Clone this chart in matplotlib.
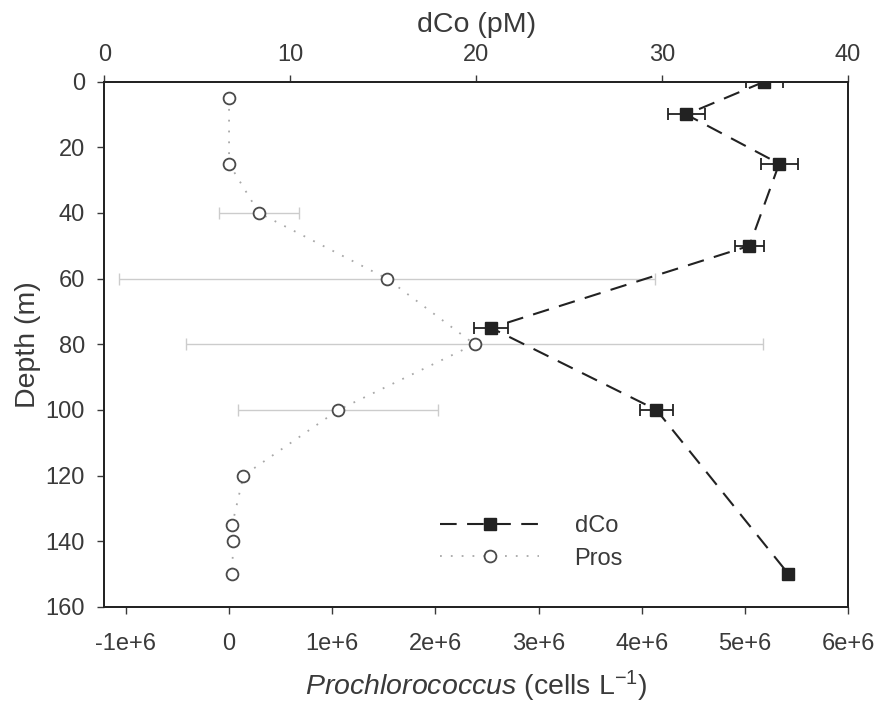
import matplotlib
matplotlib.use("Agg")
from matplotlib import pyplot as plt

plt.rcParams['font.family'] = ['Liberation Sans', 'DejaVu Sans']
plt.rcParams['mathtext.fontset'] = 'custom'
plt.rcParams['mathtext.it'] = 'Liberation Sans:italic'
plt.rcParams['mathtext.rm'] = 'Liberation Sans'

TEXT = '#3a3a3a'

# dCo profile (top axis, pM)
dco_depth = [0, 10, 25, 50, 75, 100, 150]
dco_val = [35.5, 31.3, 36.3, 34.7, 20.8, 29.7, 36.8]
dco_err = [1.0, 1.0, 1.0, 0.8, 0.9, 0.9, 0.3]

# Prochlorococcus profile (bottom axis, cells/L)
pros_depth = [5, 25, 40, 60, 80, 100, 120, 135, 140, 150]
pros_val = [0.0, 0.0, 0.29e6, 1.53e6, 2.38e6, 1.06e6, 0.14e6, 0.03e6, 0.04e6, 0.03e6]
pros_err = [0, 0, 0.39e6, 2.6e6, 2.8e6, 0.97e6, 0, 0, 0, 0]

bottom_ticks = [-1e6, 0, 1e6, 2e6, 3e6, 4e6, 5e6, 6e6]
bottom_labels = ['-1e+6', '0', '1e+6', '2e+6', '3e+6', '4e+6', '5e+6', '6e+6']

fig = plt.figure(figsize=(8.76, 7.04), dpi=100)
ax = fig.add_axes([0.119, 0.138, 0.849, 0.746])

ax.errorbar(pros_val, pros_depth, xerr=pros_err, fmt='none', ecolor='#cccccc',
            elinewidth=1.0, capsize=4.5, capthick=1.0, zorder=1)
ln2, = ax.plot(pros_val, pros_depth, linestyle=(0, (1, 5)), color='#a8a8a8', lw=1.3,
               marker='o', mfc='white', mec='#4a4a4a', ms=8.5, mew=1.3, zorder=3,
               label='Pros')
ax.set_xlim(-1.21e6, 5.98e6)
ax.set_xticks(bottom_ticks)
ax.set_xticklabels(bottom_labels)
ax.set_ylim(160, 0)
ax.set_yticks(range(0, 161, 20))
ax.set_ylabel('Depth (m)', fontsize=20.5, color=TEXT, labelpad=3)
ax.set_xlabel(r'$\it{Prochlorococcus}$ (cells L$^{-1}$)', fontsize=20.5, color=TEXT, labelpad=10)

ax2 = ax.twiny()
ax2.errorbar(dco_val, dco_depth, xerr=dco_err, fmt='none', ecolor='#222222',
             elinewidth=1.3, capsize=4.5, capthick=1.3, zorder=2)
ln1, = ax2.plot(dco_val, dco_depth, linestyle=(0, (8, 5)), color='#222222', lw=1.5,
                marker='s', mfc='#222222', mec='#222222', ms=8.5, zorder=4, label='dCo')
ax2.set_xlim(0, 40)
ax2.set_xticks([0, 10, 20, 30, 40])
ax2.set_xlabel('dCo (pM)', fontsize=20.5, color=TEXT, labelpad=9)

for a in (ax, ax2):
    a.tick_params(labelsize=17, colors=TEXT, length=5, width=1.0)
    for s in a.spines.values():
        s.set_linewidth(1.3)
        s.set_color('#222222')
ax.tick_params(axis='x', pad=14)
ax.tick_params(axis='y', pad=9)
ax2.tick_params(axis='x', pad=6)

leg = ax.legend([ln1, ln2], ['dCo', 'Pros'], loc='upper left',
                bbox_to_anchor=(440 / 876, 1 - 515 / 704), bbox_transform=fig.transFigure,
                frameon=False, fontsize=17, handlelength=4.2, labelspacing=0.45,
                handletextpad=1.5, borderpad=0, borderaxespad=0)
for t in leg.get_texts():
    t.set_color(TEXT)

fig.savefig('out.png', dpi=100)
